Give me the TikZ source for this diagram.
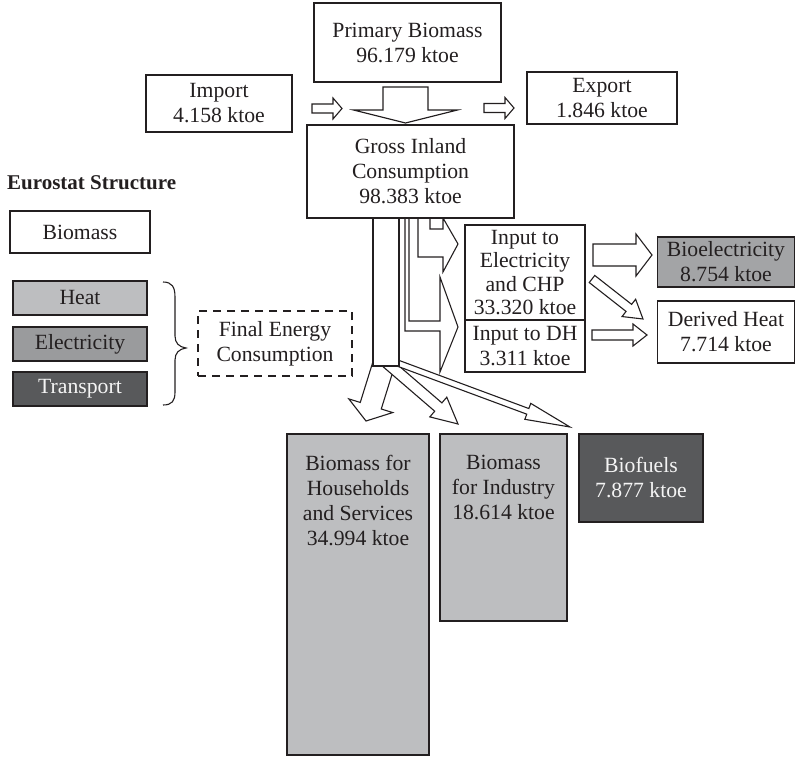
\documentclass[tikz,border=0pt]{standalone}
\usepackage{fontspec}
\setmainfont{Liberation Serif}
\usetikzlibrary{calc}

\definecolor{ink}{HTML}{231F20}
\definecolor{heatgray}{HTML}{BDBEC0}
\definecolor{elecgray}{HTML}{9A9B9D}
\definecolor{darkgray}{HTML}{58595B}
\definecolor{bioelgray}{HTML}{A3A4A6}
\definecolor{lighttext}{HTML}{F4F4F4}

% block arrow: #1 tail, #2 tip, #3 half body width, #4 half head width, #5 head length
\newcommand\blockarrow[5]{%
  \coordinate (ba-h) at ($(#2)!#5!(#1)$);
  \draw[flowarrow] ($(#1)!#3!90:(#2)$) -- ($(ba-h)!#3!90:(#2)$)
    -- ($(ba-h)!#4!90:(#2)$) -- (#2) -- ($(ba-h)!#4!-90:(#2)$)
    -- ($(ba-h)!#3!-90:(#2)$) -- ($(#1)!#3!-90:(#2)$) -- cycle;}

\tikzset{
  txt/.style={font=\fontsize{21.7}{25}\selectfont, text=ink, align=center, inner sep=0pt},
  box/.style={txt, draw=ink, line width=1.1pt, fill=white, rectangle},
  flowarrow/.style={draw=ink, line width=1.1pt, fill=white, line join=miter},
}

\begin{document}
\begin{tikzpicture}[x=1pt, y=-1pt]
\useasboundingbox (0,0) rectangle (796,757);

% ---- supply side ----
\node[box, minimum width=187pt, minimum height=79pt] (prim) at (407.5,42.5) {Primary Biomass\\96.179 ktoe};
\node[box, minimum width=146pt, minimum height=57pt] (imp) at (219,103.5) {Import\\4.158 ktoe};
\node[box, minimum width=150pt, minimum height=52pt] (exp) at (602,98) {Export\\1.846 ktoe};

\coordinate (impA) at (312,108.5);  \coordinate (impB) at (342,108.5);
\coordinate (expA) at (484,108);    \coordinate (expB) at (514,108);
\coordinate (primA) at (405.5,87);  \coordinate (primB) at (405.5,123);
\blockarrow{impA}{impB}{4.5pt}{10.5pt}{9pt}
\blockarrow{expA}{expB}{4.5pt}{10.5pt}{9pt}
\blockarrow{primA}{primB}{22.5pt}{52pt}{13pt}

% ---- final consumption arrows leaving the column ----
\coordinate (hhA) at (385,360);   \coordinate (hhB) at (366,421);
\coordinate (indA) at (386,362);  \coordinate (indB) at (458,424);
\coordinate (bfA) at (392,361);   \coordinate (bfB) at (570,427);
\blockarrow{hhA}{hhB}{11pt}{23pt}{16pt}
\blockarrow{indA}{indB}{5.5pt}{13pt}{26pt}
\blockarrow{bfA}{bfB}{3pt}{8.5pt}{45pt}

% ---- transformation inputs (bent arrows) ----
\draw[flowarrow, fill=none] (430,218) -- (430,229) -- (443,229) -- (443,218)
  -- (458,244) -- (443,272) -- (443,257) -- (418,257) -- (418,218);
\draw[flowarrow, fill=none] (409,218) -- (409,321) -- (440,321) -- (440,277)
  -- (458,327) -- (440,372) -- (440,331) -- (405,331) -- (405,218);

\node[box, minimum width=26pt, minimum height=149pt] (col) at (386,291.5) {};
\node[box, minimum width=207pt, minimum height=93pt] (gic) at (410.5,171.5) {Gross Inland\\Consumption\\98.383 ktoe};

\node[box, font=\fontsize{21.7}{23.5}\selectfont, minimum width=120pt, minimum height=95pt] (ielec) at (525,272.5) {Input to\\Electricity\\and CHP\\33.320 ktoe};
\node[box, minimum width=120pt, minimum height=52pt] (idh) at (525,346) {Input to DH\\3.311 ktoe};

% ---- transformation outputs ----
\coordinate (belA) at (593,255);  \coordinate (belB) at (652,255);
\coordinate (dgA) at (592,279);   \coordinate (dgB) at (643,319);
\coordinate (dhA) at (592,335);   \coordinate (dhB) at (647,335);
\blockarrow{belA}{belB}{11pt}{21pt}{16pt}
\blockarrow{dgA}{dgB}{4.5pt}{11pt}{18pt}
\blockarrow{dhA}{dhB}{5pt}{11pt}{14pt}

\node[box, fill=bioelgray, minimum width=137pt, minimum height=50pt] (bioel) at (726,262) {Bioelectricity\\8.754 ktoe};
\node[box, minimum width=137pt, minimum height=62pt] (dheat) at (726,332) {Derived Heat\\7.714 ktoe};

% ---- final energy consumption ----
\node[box, fill=heatgray, minimum width=142pt, minimum height=321pt] (hh) at (358,594.5) {};
\node[txt] (hhtxt) at ($(hh.north)+(0,67)$) {Biomass for\\Households\\and Services\\34.994 ktoe};
\node[box, fill=heatgray, minimum width=127pt, minimum height=187pt] (ind) at (503.5,527.5) {};
\node[txt] (indtxt) at ($(ind.north)+(0,54)$) {Biomass\\for Industry\\18.614 ktoe};
\node[box, fill=darkgray, text=lighttext, minimum width=124pt, minimum height=88pt] (biof) at (641,478) {Biofuels\\7.877 ktoe};

% ---- legend ----
\node[txt, font=\bfseries\fontsize{21}{25}\selectfont, anchor=west] (title) at (7,183) {Eurostat Structure};
\node[box, minimum width=140pt, minimum height=42pt] (lbio) at (80,232) {Biomass};
\node[box, fill=heatgray, minimum width=134pt, minimum height=34pt] (lheat) at (80,298) {Heat};
\node[box, fill=elecgray, minimum width=134pt, minimum height=34pt] (lelec) at (80,344) {Electricity};
\node[box, fill=darkgray, text=lighttext, minimum width=134pt, minimum height=34pt] (ltrans) at (80,389) {Transport};

\draw[draw=ink, line width=1.1pt] (163,282) .. controls (172,282) and (175,287) .. (175,297)
  -- (175,336) .. controls (175,343) and (179,347) .. (186,348)
  .. controls (179,349) and (175,353) .. (175,360)
  -- (175,392) .. controls (175,401) and (172,405) .. (163,405);

\node[box, dash pattern=on 8pt off 6pt, minimum width=154pt, minimum height=65pt] (fec) at (275,343.5) {Final Energy\\Consumption};
\end{tikzpicture}
\end{document}
